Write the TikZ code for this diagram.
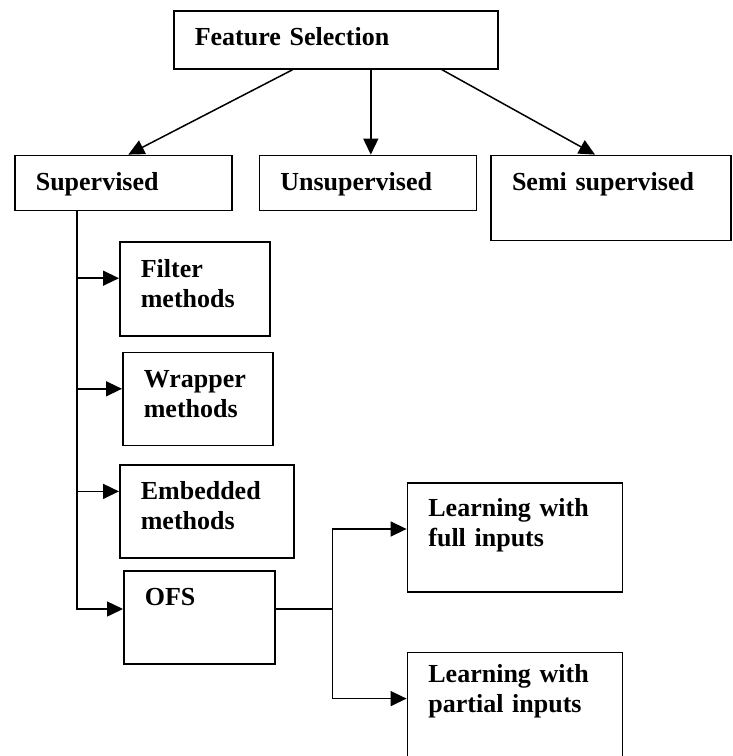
\documentclass[tikz,border=0pt]{standalone}
\usepackage{fontspec}
\setmainfont{Liberation Serif}
\usetikzlibrary{arrows.meta,%
                positioning}

\begin{document}
\begin{tikzpicture}[x = 1pt, y = 1pt]
  \useasboundingbox[fill = white] (0,0) rectangle (733,-756);
  \tikzset{BoxStyle/.style  = {draw,
                               line width     = 1.6pt,
                               align          = left,
                               anchor         = north west,
                               inner xsep     = 21pt,
                               inner ysep     = 0pt,
                               text height    = 35pt,
                               font           = \fontsize{26}{30}\selectfont\bfseries}}
  \tikzset{LineStyle/.style = {line width     = 1.5pt}}
  \tikzset{EdgeStyle/.style = {line width     = 1.5pt,
                               -{Triangle[length = 16pt, width = 15pt]}}}
     \node[BoxStyle, text width = 282pt, text depth = 23pt] (fs) at (173,-10) {Feature Selection};
     \node[BoxStyle, text width = 175pt, text depth = 20pt,
           below right = 85pt and -159pt of fs.south west] (sup) {Supervised};
     \node[BoxStyle, text width = 175pt, text depth = 20pt,
           right = 26pt of sup] (uns) {Unsupervised};
     \node[BoxStyle, text width = 198pt, text depth = 50pt,
           right = 13pt of uns.north east, anchor = north west] (semi) {Semi supervised};

     \node[BoxStyle, text width = 108pt, text depth = 59pt,
           below right = 30pt and 105pt of sup.south west] (filt) {Filter\\methods};
     \node[BoxStyle, text width = 108pt, text depth = 58pt,
           below right = 15pt and 3pt of filt.south west] (wrap) {Wrapper\\methods};
     \node[BoxStyle, text width = 132pt, text depth = 59pt, text height = 34pt,
           below right = 18pt and -3pt of wrap.south west] (emb) {Embedded\\methods};
     \node[BoxStyle, text width = 109pt, text depth = 58pt,
           below right = 11pt and 4pt of emb.south west] (ofs) {OFS};

     \node[BoxStyle, text width = 173pt, text depth = 75pt, text height = 34pt,
           above right = 88pt and 131pt of ofs.north east, anchor = north west] (lfull) {Learning with\\full inputs};
     \node[BoxStyle, text width = 173pt, text depth = 83pt, text height = 30pt,
           below = 59pt of lfull.south west, anchor = north west] (lpart) {Learning with\\partial inputs};

     % top level
     \draw[EdgeStyle] ([xshift = -43pt]fs.south) -- ([xshift = 5pt]sup.north);
     \draw[EdgeStyle] ([xshift = 35pt]fs.south) -- ([xshift = 35pt]fs.south |- uns.north);
     \draw[EdgeStyle] ([xshift = 106pt]fs.south) -- ([xshift = -16pt]semi.north);

     % supervised methods
     \coordinate (trunk) at ([xshift = 63pt]sup.south west);
     \draw[EdgeStyle] (trunk) |- ([yshift = -39pt]ofs.north west);
     \draw[EdgeStyle] ([yshift = -37pt]filt.north west -| trunk) -- ([yshift = -37pt]filt.north west);
     \draw[EdgeStyle] ([yshift = -37pt]wrap.north west -| trunk) -- ([yshift = -37pt]wrap.north west);
     \draw[EdgeStyle] ([yshift = -27pt]emb.north west -| trunk) -- ([yshift = -27pt]emb.north west);

     % OFS
     \coordinate (branch) at ([xshift = 57pt, yshift = -39pt]ofs.north east);
     \draw[LineStyle] ([yshift = -39pt]ofs.north east) -- (branch);
     \draw[EdgeStyle] (branch) |- ([yshift = -47pt]lfull.north west);
     \draw[EdgeStyle] (branch) |- ([yshift = -47pt]lpart.north west);
  \end{tikzpicture}
\end{document}
